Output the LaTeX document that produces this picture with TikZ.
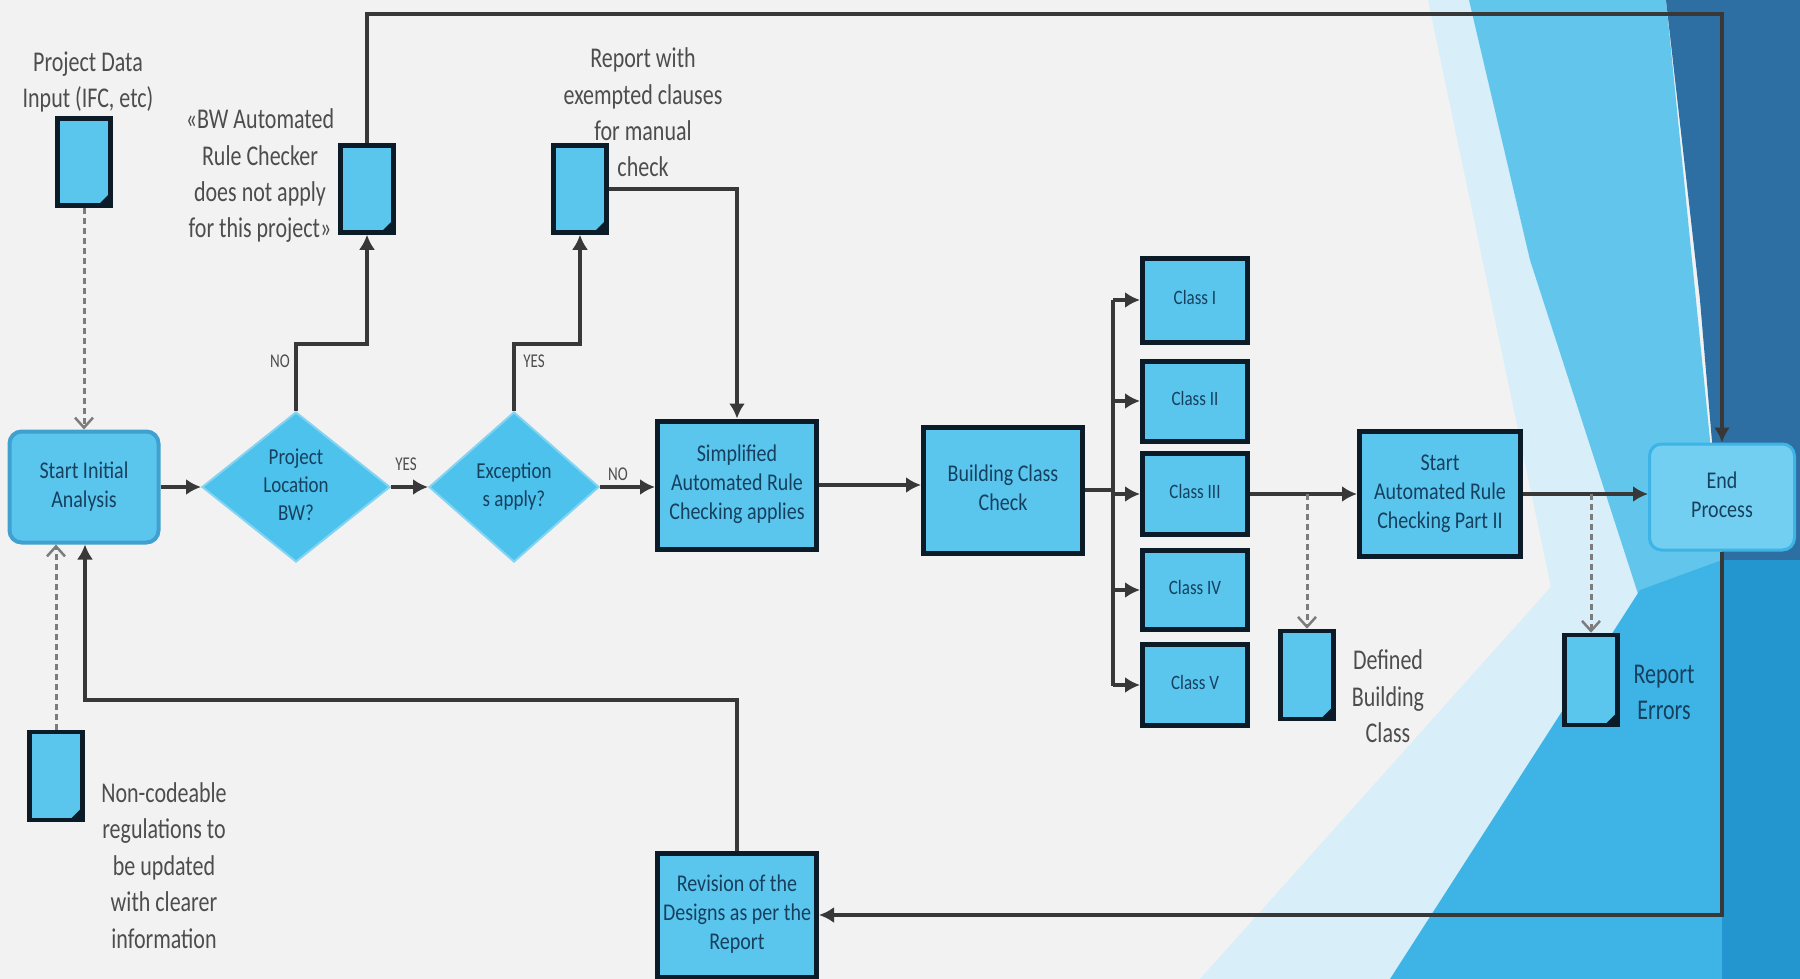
\documentclass[tikz,border=0pt]{standalone}
\usepackage{fontspec}
\setmainfont{Carlito}
\usetikzlibrary{arrows.meta,shapes.geometric}
\definecolor{bgc}{HTML}{F2F2F2}
\definecolor{boxfill}{HTML}{5AC6EE}
\definecolor{decfill}{HTML}{4DC2EC}
\definecolor{procline}{HTML}{0B1B27}
\definecolor{boxtext}{HTML}{16405E}
\definecolor{labeltext}{HTML}{4D4D4D}
\definecolor{conn}{HTML}{383838}
\definecolor{dashc}{HTML}{7C7C7C}
\definecolor{paleb}{HTML}{D8EEF8}
\definecolor{lightb}{HTML}{62C6EC}
\definecolor{darkb}{HTML}{2D6EA3}
\definecolor{brightb}{HTML}{3DB4E5}
\definecolor{midb}{HTML}{2496CF}
\newcommand{\vtxt}[2][1.2]{\scalebox{1}[#1]{\begin{tabular}{@{}c@{}}#2\end{tabular}}}
\begin{document}
\begin{tikzpicture}[x=1pt,y=-1pt,
  proc/.style={draw=procline, line width=5pt, fill=boxfill, inner sep=0pt, text=boxtext, font=\fontsize{20}{24}\selectfont},
  cls/.style={proc, minimum width=105pt, font=\fontsize{17}{20}\selectfont},
  rbox/.style={rounded corners=12pt, fill=boxfill, inner sep=0pt, text=boxtext, font=\fontsize{20}{24}\selectfont},
  dec/.style={diamond, shape aspect=1.25, fill=decfill, draw=decfill!70!white, line width=2pt, inner sep=0pt, text=boxtext, font=\fontsize{19}{23}\selectfont},
  docu/.style={rectangle, draw=procline, line width=4.5pt, fill=boxfill, minimum width=53pt, minimum height=87pt, inner sep=0pt,
    path picture={\fill[procline] (path picture bounding box.south east) -- ([xshift=-13pt]path picture bounding box.south east) -- ([yshift=13pt]path picture bounding box.south east) -- cycle;}},
  lbl/.style={text=labeltext, font=\fontsize{22}{28}\selectfont, inner sep=0pt},
  small/.style={text=labeltext, font=\fontsize{15}{18}\selectfont, inner sep=0pt},
  arr/.style={draw=conn, line width=4pt, -{Latex[length=15pt,width=16pt]}},
  line/.style={draw=conn, line width=4pt},
  dsh/.style={draw=dashc, line width=3pt, dash pattern=on 6pt off 4pt, -{Straight Barb[length=10pt,width=18pt,line width=2.5pt]}}
]
\useasboundingbox (0,0) rectangle (1800,979);
\clip (0,0) rectangle (1800,979);
% background
\fill[bgc] (0,0) rectangle (1800,979);
\fill[paleb] (1428,0) -- (1470,0) -- (1650,600) -- (1560,630) -- cycle;
\fill[paleb] (1200,979) -- (1392,979) -- (1645,590) -- (1575,560) -- cycle;
\fill[lightb] (1469,0) -- (1666,0) -- (1722,560) -- (1640,600) -- (1530,260) -- cycle;
\fill[darkb] (1666,0) -- (1800,0) -- (1800,560) -- (1722,560) -- (1700,300) -- cycle;
\fill[brightb] (1390,979) -- (1800,979) -- (1800,560) -- (1722,560) -- (1640,590) -- cycle;
\fill[midb] (1722,560) -- (1800,560) -- (1800,979) -- (1722,979) -- cycle;

% nodes
\node[rbox, draw=decfill!60!darkb, line width=4pt, minimum width=149pt, minimum height=111pt] (start) at (84,487) {\vtxt{Start Initial\\Analysis}};
\node[dec, minimum width=188pt, minimum height=150pt] (d1) at (296,487) {\vtxt{Project\\Location\\BW?}};
\node[dec, minimum width=170pt, minimum height=150pt] (d2) at (514,487) {\vtxt{Exception\\s apply?}};
\node[proc, minimum width=159pt, minimum height=128pt] (simp) at (737,485) {\vtxt{Simplified\\Automated Rule\\Checking applies}};
\node[proc, minimum width=159pt, minimum height=126pt] (build) at (1003,490) {\vtxt{Building Class\\Check}};
\node[cls, minimum height=84pt] (c1) at (1195,300) {\vtxt{Class I}};
\node[cls, minimum height=80pt] (c2) at (1195,401) {\vtxt{Class II}};
\node[cls, minimum height=81pt] (c3) at (1195,494) {\vtxt{Class III}};
\node[cls, minimum height=79pt] (c4) at (1195,590) {\vtxt{Class IV}};
\node[cls, minimum height=81pt] (c5) at (1195,685) {\vtxt{Class V}};
\node[proc, minimum width=161pt, minimum height=125pt] (p2) at (1440,494) {\vtxt{Start\\Automated Rule\\Checking Part II}};
\node[rbox, fill=boxfill!85!white, draw=brightb, line width=3pt, minimum width=145pt, minimum height=106pt] (end) at (1722,497) {\vtxt{End\\Process}};
\node[proc, minimum width=159pt, minimum height=124pt] (rev) at (737,915) {\vtxt{Revision of the\\Designs as per the\\Report}};

\node[docu] (pd) at (84,162) {};
\node[docu] (bw) at (367,189) {};
\node[docu] (rep) at (580,189) {};
\node[docu, minimum height=88pt] (dbc) at (1307,675) {};
\node[docu, minimum height=90pt] (rerr) at (1591,680) {};
\node[docu, minimum height=88pt] (nc) at (56,776) {};

\node[lbl] (pdl) at (88,82) {\vtxt[1.3]{Project Data\\Input (IFC, etc)}};
\node[lbl] (bwl) at (260,176) {\vtxt[1.3]{«BW Automated\\Rule Checker\\does not apply\\for this project»}};
\node[lbl] (repl) at (643,115) {\vtxt[1.3]{Report with\\exempted clauses\\for manual\\check}};
\node[lbl] (ncl) at (164,868) {\vtxt[1.3]{Non-codeable\\regulations to\\be updated\\with clearer\\information}};
\node[lbl] (dbcl) at (1388,699) {\vtxt[1.3]{Defined\\Building\\Class}};
\node[lbl, text=boxtext] (rerrl) at (1664,694) {\vtxt[1.3]{Report\\Errors}};

\node[small] (no1) at (280,363) {\vtxt[1.3]{NO}};
\node[small] (yes1) at (534,363) {\vtxt[1.3]{YES}};
\node[small] (yes2) at (406,466) {\vtxt[1.3]{YES}};
\node[small] (no2) at (618,476) {\vtxt[1.3]{NO}};

% coordinates
\coordinate (k1) at (296,344);
\coordinate (k2) at (514,344);
\coordinate (tl) at (367,14);
\coordinate (bt) at (1113,300);
\coordinate (bb) at (1113,686);
\coordinate (rl) at (85,700);

% connectors
\draw[arr] (start.east) -- (d1.west);
\draw[arr] (d1.east) -- (d2.west);
\draw[arr] (d2.east) -- (d2.east -| simp.west);
\draw[arr] (simp.east) -- (simp.east -| build.west);
\draw[line] (build.east) -- (build.east -| bt);
\draw[line] (bt) -- (bb);
\foreach \c in {c1,c2,c3,c4,c5} { \draw[arr] (\c.west -| bt) -- (\c.west); }
\draw[arr] (c3.east) -- (c3.east -| p2.west);
\draw[dsh] (c3.east -| dbc.north) -- (dbc.north);
\draw[arr] (p2.east) -- (p2.east -| end.west);
\draw[dsh] (p2.east -| rerr.north) -- (rerr.north);
\draw[arr] (d1.north) -- (k1) -| (bw.south);
\draw[arr] (d2.north) -- (k2) -| (rep.south);
\draw[arr] (rep.east) -| (simp.north);
\draw[arr] (bw.north) -- (tl) -| (end.north);
\draw[arr] (end.south) |- (rev.east);
\draw[arr] (rev.north) |- (rl) -- (rl |- start.south);
\draw[dsh] (nc.north) -- (nc.north |- start.south);
\draw[dsh] (pd.south) -- (pd.south |- start.north);
\end{tikzpicture}
\end{document}
